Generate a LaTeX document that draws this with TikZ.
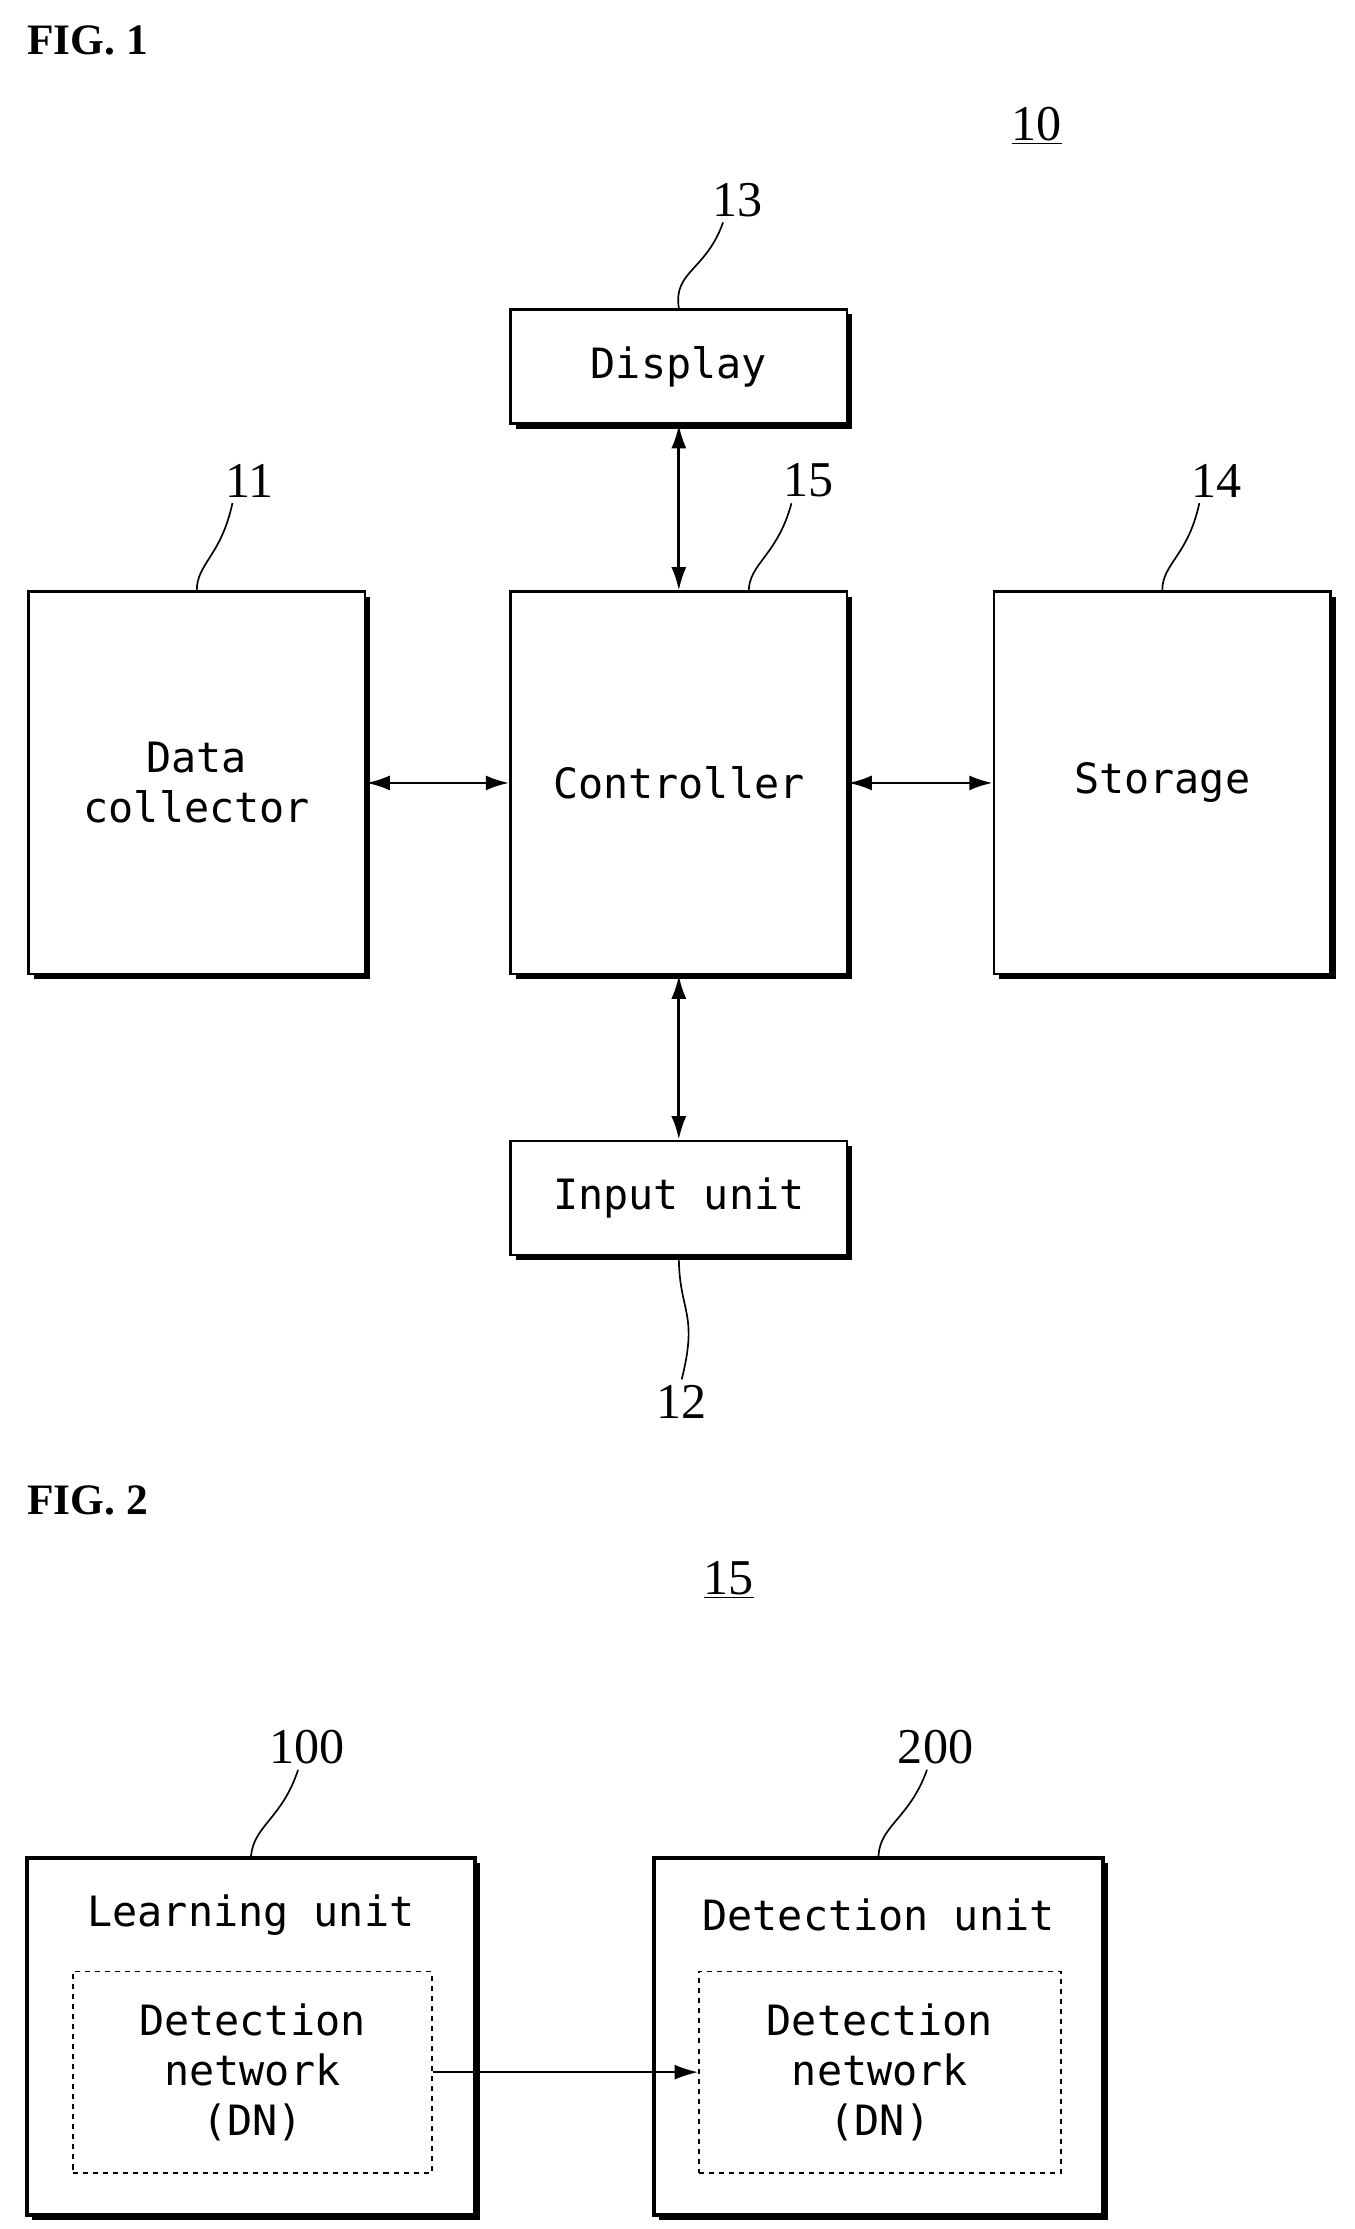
\documentclass[tikz,border=0pt]{standalone}
\usepackage{fontspec}
\setmainfont{Liberation Serif}
\newfontfamily\boxfont{DejaVu Sans Mono}
\usetikzlibrary{shadows,arrows.meta}
\tikzset{
  blk/.style={draw, line width=1.6pt, fill=white, font=\boxfont\fontsize{25}{30}\selectfont,
    align=center, drop shadow={shadow xshift=3pt, shadow yshift=-3pt, fill=black, opacity=1}},
  unitblk/.style={blk, line width=2.6pt},
  dnblk/.style={draw, dashed, line width=1pt, font=\boxfont\fontsize{25}{30}\selectfont, align=center},
  num/.style={font=\fontsize{30}{32}\selectfont},
  lead/.style={line width=1pt},
  link/.style={line width=1.6pt, {Latex[length=14pt,width=9pt]}-{Latex[length=14pt,width=9pt]}},
}
\begin{document}
\begin{tikzpicture}[x=0.03cm, y=-0.03cm]
  \useasboundingbox (0,0) rectangle (950,1563);
  \node[anchor=west, font=\bfseries\fontsize{26}{28}\selectfont] (fig1) at (15,28) {FIG. 1};
  \node[num] (n10) at (727,88) {\underline{10}};

  % blocks of FIG. 1
  \node[blk, minimum width=7.08cm, minimum height=8.04cm] (dc) at (138,549) {Data\\collector};
  \node[blk, minimum width=7.08cm, minimum height=8.04cm] (ctrl) at (476,549) {Controller};
  \node[blk, minimum width=7.08cm, minimum height=8.04cm] (stor) at (815,549) {Storage};
  \node[blk, minimum width=7.08cm, minimum height=2.4cm] (disp) at (476,257) {Display};
  \node[blk, minimum width=7.08cm, minimum height=2.4cm] (inp) at (476,840) {Input unit};

  % reference numerals
  \node[num] (n13) at (517,140) {13};
  \node[num] (n15) at (567,337) {15};
  \node[num] (n11) at (175,337) {11};
  \node[num] (n14) at (853,337) {14};
  \node[num] (n12) at (478,983) {12};
  \coordinate (t15) at (525,415);
  \draw[lead] (n13.south) ++(-10,0) .. controls (495,190) and (472,190) .. (disp.north);
  \draw[lead] (n15.south) ++(-12,0) .. controls (545,390) and (525,395) .. (t15);
  \draw[lead] (n11.south) ++(-12,0) .. controls (155,390) and (138,395) .. (dc.north);
  \draw[lead] (n14.south) ++(-12,0) .. controls (833,390) and (815,395) .. (stor.north);
  \draw[lead] (inp.south) .. controls (476,920) and (490,920) .. (n12.north);

  % connections
  \draw[link] (disp) -- (ctrl);
  \draw[link] (dc) -- (ctrl);
  \draw[link] (ctrl) -- (stor);
  \draw[link] (ctrl) -- (inp);

  % FIG. 2
  \node[anchor=west, font=\bfseries\fontsize{26}{28}\selectfont] (fig2) at (15,1052) {FIG. 2};
  \node[num] (n15b) at (511,1108) {\underline{15}};
  \node[unitblk, minimum width=9.42cm, minimum height=7.5cm] (learn) at (176,1428) {};
  \node[unitblk, minimum width=9.45cm, minimum height=7.5cm] (det) at (616,1428) {};
  \node[font=\boxfont\fontsize{25}{30}\selectfont] (learnt) at (176,1343) {Learning unit};
  \node[font=\boxfont\fontsize{25}{30}\selectfont] (dett) at (616,1343) {Detection unit};
  \node[dnblk, minimum width=7.56cm, minimum height=4.23cm] (dn1) at (177,1453) {Detection\\network\\(DN)};
  \node[dnblk, minimum width=7.62cm, minimum height=4.23cm] (dn2) at (617,1453) {Detection\\network\\(DN)};
  \draw[line width=1pt, -{Latex[length=14pt,width=9pt]}] (dn1) -- (dn2);

  \node[num] (n100) at (215,1225) {100};
  \node[num] (n200) at (656,1225) {200};
  \draw[lead] (n100.south) ++(-6,0) .. controls (198,1275) and (178,1280) .. (learn.north);
  \draw[lead] (n200.south) ++(-6,0) .. controls (638,1275) and (617,1280) .. (det.north);
\end{tikzpicture}
\end{document}
